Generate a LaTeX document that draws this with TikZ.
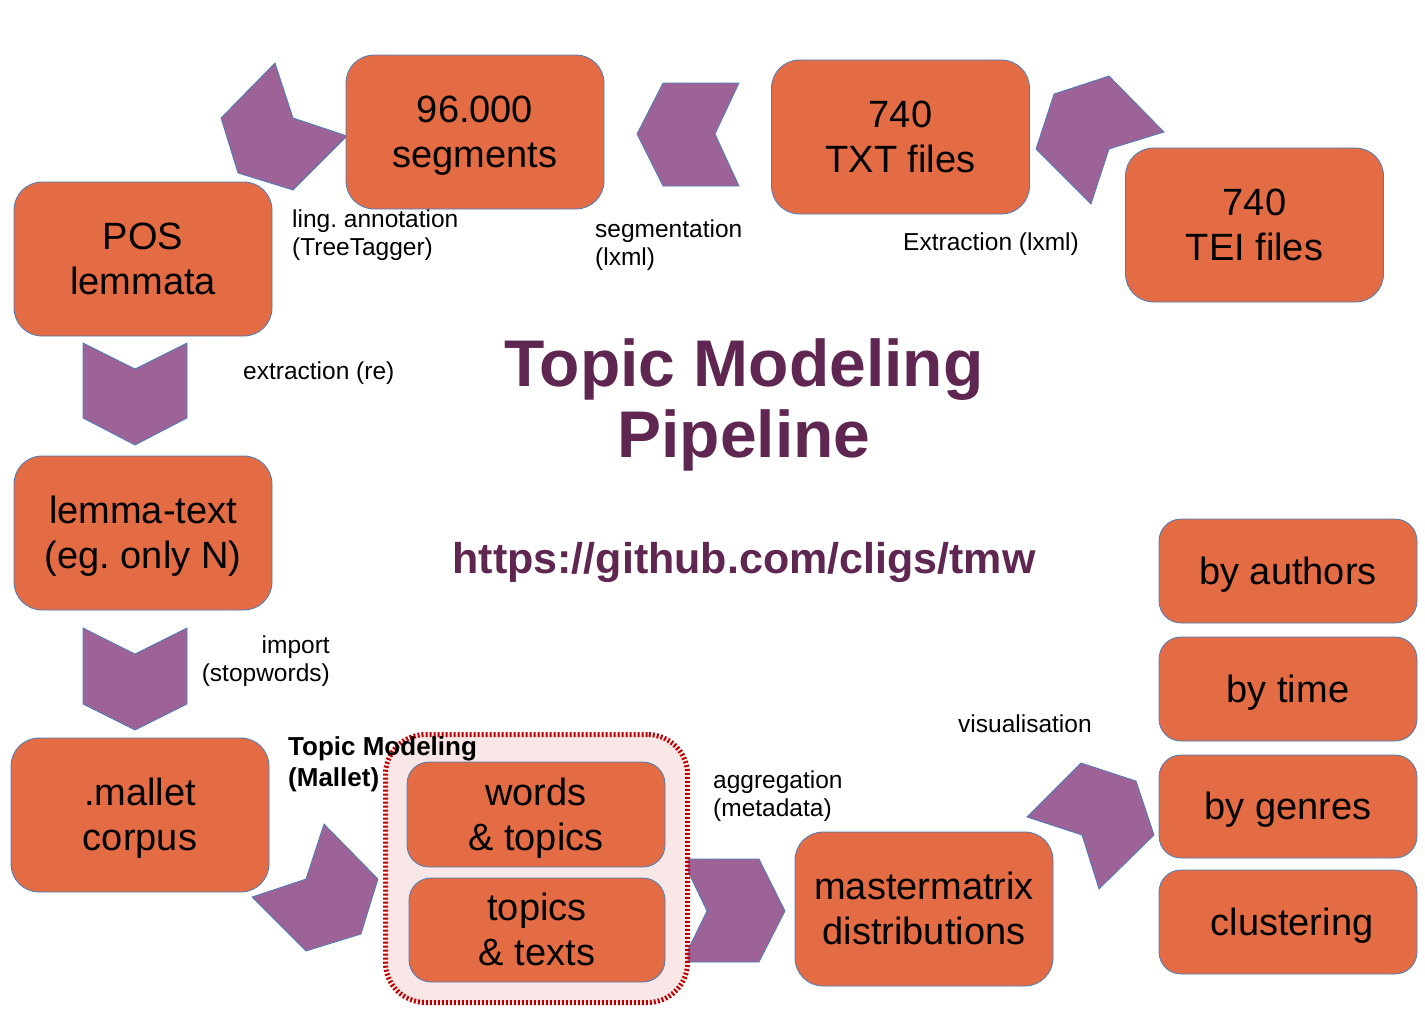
\documentclass[tikz,border=0pt]{standalone}
\usepackage{fontspec}
\setmainfont{Liberation Sans}
\frenchspacing
\definecolor{boxfill}{RGB}{227,108,68}
\definecolor{boxline}{RGB}{74,126,187}
\definecolor{chevfill}{RGB}{158,99,150}
\definecolor{titlecol}{RGB}{94,38,80}
\definecolor{pinkfill}{RGB}{249,230,230}
\definecolor{dashred}{RGB}{192,0,0}
\newcommand\ls{\rule[-0.212em]{0pt}{1.117em}}
\begin{document}
\begin{tikzpicture}[x=1pt,y=-1pt,
 stage/.style={draw=boxline, fill=boxfill, line width=0.8pt, rounded corners=28pt, minimum width=258pt, minimum height=154pt, align=center, font=\fontsize{38}{45}\selectfont, inner sep=0pt},
 small/.style={stage, minimum height=104pt, rounded corners=22pt},
 lbl/.style={font=\fontsize{24.5}{28}\selectfont, inner sep=0pt, align=left, anchor=west},
 chev/.style={draw=boxline, fill=chevfill, line width=0.8pt, line join=miter}]
\useasboundingbox (0,0) rectangle (1425,1020);
\fill[white] (0,0) rectangle (1425,1020);

% chevrons
\draw[chev] (275,63)--(293,118)--(347,136)--(293,190)--(238,173)--(221,118)--cycle;
\draw[chev] (663,83)--(739,83)--(715,134)--(739,186)--(663,186)--(637,134)--cycle;
\draw[chev] (1109,76)--(1164,132)--(1109,149)--(1091,204)--(1036,149)--(1054,94)--cycle;
\draw[chev] (83,343)--(135,369)--(187,343)--(187,418)--(135,445)--(83,418)--cycle;
\draw[chev] (83,628)--(135,654)--(187,628)--(187,704)--(135,730)--(83,704)--cycle;
\draw[chev] (324,824)--(378,879)--(361,934)--(306,951)--(252,897)--(306,879)--cycle;
\draw[chev] (682,859)--(759,859)--(785,911)--(759,962)--(682,962)--(707,911)--cycle;
\draw[chev] (1081,763)--(1136,781)--(1154,835)--(1099,889)--(1082,835)--(1027,817)--cycle;

% topic modeling group
\node[draw=dashred, fill=pinkfill, line width=5pt, dash pattern=on 2pt off 2pt, rounded corners=40pt, minimum width=302pt, minimum height=268pt, inner sep=0pt] (tmgroup) at (536.5,868.5) {};

% stages
\node[stage] (seg) at (475,132) {\ls 96.000\\\ls segments};
\node[stage] (txt) at (900.5,137) {\ls 740\\\ls TXT files};
\node[stage] (tei) at (1254.5,225) {\ls 740\\\ls TEI files};
\node[stage] (pos) at (143,259) {\ls POS\\\ls lemmata};
\node[stage] (lem) at (143,533) {\ls lemma-text\\\ls (eg. only N)};
\node[stage] (mal) at (140,815) {\ls .mallet\\\ls corpus};
\node[small, minimum width=258pt, minimum height=105pt] (wt) at (536,814.5) {\ls words\\\ls \& topics};
\node[small, minimum width=256pt] (tt) at (537,930) {\ls topics\\\ls \& texts};
\node[stage] (mm) at (924,909) {\ls mastermatrix\\\ls distributions};
\node[small] (auth) at (1288,571) {\ls by authors};
\node[small] (time) at (1288,689) {\ls by time};
\node[small, minimum height=103pt] (gen) at (1288,806.5) {\ls by genres};
\node[small] (clu) at (1288,922) {\ls\hspace*{8pt}clustering};

% labels
\node[lbl] (l1) at (292,233) {\ls ling. annotation\\\ls (TreeTagger)};
\node[lbl] (l2) at (595,243) {\ls segmentation\\\ls (lxml)};
\node[lbl] (l3) at (903,242) {\ls Extraction (lxml)};
\node[lbl] (l4) at (243,371) {\ls extraction (re)};
\node[lbl, anchor=east, align=right] (l5) at (330,659) {\ls import\\\ls (stopwords)};
\node[lbl, font=\fontsize{26}{28}\selectfont\bfseries] (l6) at (288,762) {\ls Topic Modeling\\\ls (Mallet)};
\node[lbl] (l7) at (713,794) {\ls aggregation\\\ls (metadata)};
\node[lbl] (l8) at (958,724) {\ls visualisation};

% title
\node[font=\fontsize{66}{71}\selectfont\bfseries, text=titlecol, align=center, inner sep=0pt] (title) at (744,405) {Topic Modeling\\Pipeline};
\node[font=\fontsize{43}{50}\selectfont\bfseries, text=titlecol, inner sep=0pt] (url) at (744,562) {https://github.com/cligs/tmw};
\end{tikzpicture}
\end{document}
